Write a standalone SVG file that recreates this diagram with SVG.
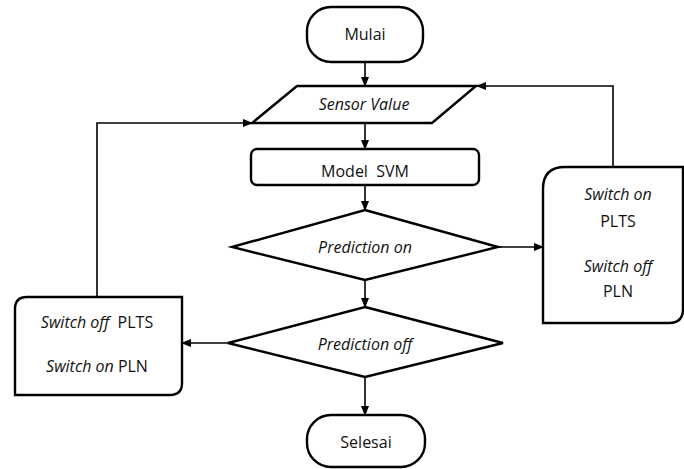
<svg xmlns="http://www.w3.org/2000/svg" width="684" height="469" viewBox="0 0 684 469">
  <defs>
    <marker id="ah" markerWidth="10" markerHeight="8" refX="9" refY="4" orient="auto" markerUnits="userSpaceOnUse">
      <path d="M0,0 L10,4 L0,8 Z" fill="#000"/>
    </marker>
    <style>
      .shape { fill: #fff; stroke: #000; stroke-width: 2.4; }
      .conn { fill: none; stroke: #000; stroke-width: 1.6; marker-end: url(#ah); }
      text { font-family: "Open Sans", "Liberation Sans", sans-serif; font-size: 16px; fill: #111; text-anchor: middle; }
      .it { font-style: italic; }
    </style>
  </defs>
  <rect width="684" height="469" fill="#fff"/>

  <g id="connectors">
    <line class="conn" x1="365" y1="62" x2="365" y2="86"/>
    <line class="conn" x1="365" y1="123" x2="365" y2="149"/>
    <line class="conn" x1="365" y1="185" x2="365" y2="210"/>
    <line class="conn" x1="365" y1="280" x2="365" y2="307"/>
    <line class="conn" x1="365" y1="377" x2="365" y2="415"/>
    <line class="conn" x1="498" y1="247" x2="543" y2="247"/>
    <line class="conn" x1="228" y1="343" x2="182" y2="343"/>
    <polyline class="conn" points="97,297 97,123 252,123"/>
    <polyline class="conn" points="613,167 613,86 477,86"/>
  </g>

  <g id="mulai">
    <rect class="shape" x="307" y="7" width="116" height="55" rx="24" ry="24"/>
    <text x="365" y="40">Mulai</text>
  </g>

  <g id="sensor-value">
    <polygon class="shape" points="297,86 476,86 432,123 252,123"/>
    <text class="it" x="364" y="110">Sensor Value</text>
  </g>

  <g id="model-svm">
    <rect class="shape" x="251" y="149" width="228" height="36" rx="6" ry="6"/>
    <text x="365" y="177" xml:space="preserve">Model  SVM</text>
  </g>

  <g id="prediction-on">
    <polygon class="shape" points="365,210 498,247 365,280 232,247"/>
    <text class="it" x="365" y="253">Prediction on</text>
  </g>

  <g id="prediction-off">
    <polygon class="shape" points="365,307 503,343 365,377 228,343"/>
    <text class="it" x="365" y="350">Prediction off</text>
  </g>

  <g id="selesai">
    <rect class="shape" x="307" y="415" width="118" height="52" rx="24" ry="24"/>
    <text x="366" y="448">Selesai</text>
  </g>

  <g id="switch-left">
    <path class="shape" d="M15,309 Q15,297 27,297 L182,297 L182,383 Q182,395 170,395 L15,395 Z"/>
    <text x="97" y="328" xml:space="preserve"><tspan class="it">Switch off</tspan>  PLTS</text>
    <text x="97" y="372"><tspan class="it">Switch on</tspan> PLN</text>
  </g>

  <g id="switch-right">
    <path class="shape" d="M543,189 Q543,167 565,167 L683,167 L683,309 Q683,323 669,323 L543,323 Z"/>
    <text class="it" x="618" y="200">Switch on</text>
    <text x="618" y="227">PLTS</text>
    <text class="it" x="618" y="272">Switch off</text>
    <text x="618" y="297">PLN</text>
  </g>
</svg>
